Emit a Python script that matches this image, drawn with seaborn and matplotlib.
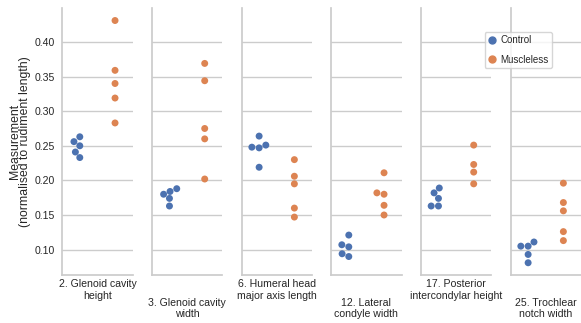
import pandas as pd
import seaborn as sns
import matplotlib.pyplot as plt
from matplotlib.lines import Line2D

# measurements (one panel each)
measures = ['2. Glenoid cavity\nheight',
            '3. Glenoid cavity\nwidth',
            '6. Humeral head\nmajor axis length',
            '12. Lateral\ncondyle width',
            '17. Posterior\nintercondylar height',
            '25. Trochlear\nnotch width']
groups = ['Control', 'Muscleless']

# values
control = [[0.263, 0.256, 0.250, 0.241, 0.233],
           [0.188, 0.184, 0.180, 0.174, 0.163],
           [0.264, 0.251, 0.248, 0.247, 0.219],
           [0.121, 0.107, 0.104, 0.094, 0.090],
           [0.189, 0.182, 0.174, 0.163, 0.163],
           [0.111, 0.105, 0.105, 0.093, 0.081]]
muscleless = [[0.431, 0.359, 0.340, 0.319, 0.283],
              [0.369, 0.344, 0.275, 0.260, 0.202],
              [0.230, 0.206, 0.195, 0.160, 0.147],
              [0.211, 0.182, 0.180, 0.164, 0.150],
              [0.251, 0.223, 0.212, 0.195],
              [0.196, 0.168, 0.156, 0.126, 0.113]]

rows = []
for m, c, mu in zip(measures, control, muscleless):
    for v in c:
        rows.append((m, 'Control', v))
    for v in mu:
        rows.append((m, 'Muscleless', v))
df = pd.DataFrame(rows, columns=['measure', 'group', 'value'])

sns.set_theme(style='whitegrid')
plt.rcParams['font.family'] = ['Liberation Sans', 'DejaVu Sans']

g = sns.catplot(data=df, x='group', y='value', hue='group', col='measure',
                col_order=measures, order=groups, hue_order=groups,
                kind='swarm', size=5, legend=False, height=3.23, aspect=0.25)
g.set_titles('')
g.set(xticks=[])

for i, ax in enumerate(g.axes.flat):
    # alternate label height so neighbouring labels don't collide
    ax.set_xlabel(measures[i], fontsize=7.6, labelpad=3 if i % 2 == 0 else 16.4)
    ax.tick_params(axis='y', labelsize=7.6, length=0, pad=5.5)
    ax.set_ylabel('')
g.axes.flat[0].set_ylabel('Measurement\n(normalised to rudiment length)',
                          fontsize=8.8, linespacing=0.8, labelpad=2)

fig = g.figure
fig.set_size_inches(5.81, 3.23)
fig.subplots_adjust(left=0.107, right=1.0, top=0.974, bottom=0.149, wspace=0.272)

pal = sns.color_palette('deep')
handles = [Line2D([], [], marker='o', ls='', color=pal[0], markersize=5),
           Line2D([], [], marker='o', ls='', color=pal[1], markersize=5)]
fig.legend(handles, groups, loc='upper left', bbox_to_anchor=(0.834, 0.902),
           fontsize=7, labelspacing=1.0, handlelength=0.8, handletextpad=0.5,
           borderpad=0.35, borderaxespad=0, frameon=True)

fig.savefig('out.png', dpi=100)
